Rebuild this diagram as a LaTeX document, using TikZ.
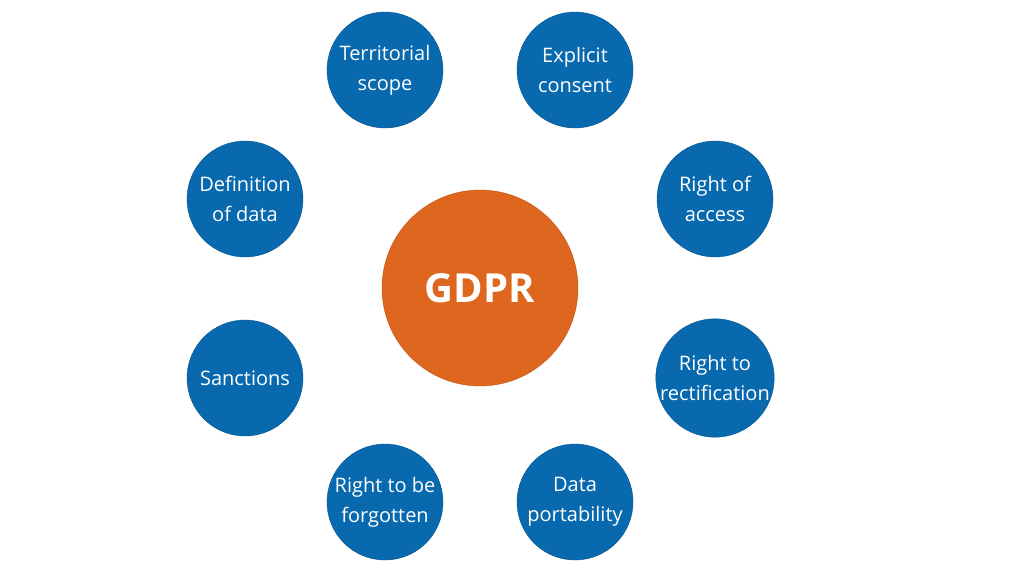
\documentclass[tikz,border=0pt]{standalone}
\usepackage{fontspec}
\setmainfont{Open Sans}
\usepackage{tikz}
\usetikzlibrary{positioning}
\definecolor{topicblue}{HTML}{0869AE}
\definecolor{coreorange}{HTML}{DE661E}
\tikzset{
  topic/.style={circle, fill=topicblue, draw=topicblue!80!black, minimum size=116pt, inner sep=0pt,
    text=white, align=center, font=\fontsize{20}{30}\selectfont},
  core/.style={circle, fill=coreorange, draw=coreorange!85!black, minimum size=196pt,
    text=white, font=\fontsize{40}{48}\selectfont\bfseries}
}
\begin{document}
\begin{tikzpicture}[x=1pt, y=-1pt]
    \useasboundingbox (0,0) rectangle (1024,576);
    % centre
    \node[core] (gdpr) at (480,288) {GDPR};

    % topics around it
    \node[topic] (scope) at (385,70) {Territorial\\scope};
    \node[topic] (consent) at (575,70) {Explicit\\consent};
    \node[topic] (definition) at (245,199) {Definition\\of data};
    \node[topic] (access) at (715,199) {Right of\\access};
    \node[topic] (sanctions) at (245,378) {Sanctions};
    \node[topic] (rectify) at (715,378) {Right to\\rectification};
    \node[topic] (forgotten) at (385,502) {Right to be\\forgotten};
    \node[topic] (portability) at (575,502) {Data\\portability};
\end{tikzpicture}
\end{document}
